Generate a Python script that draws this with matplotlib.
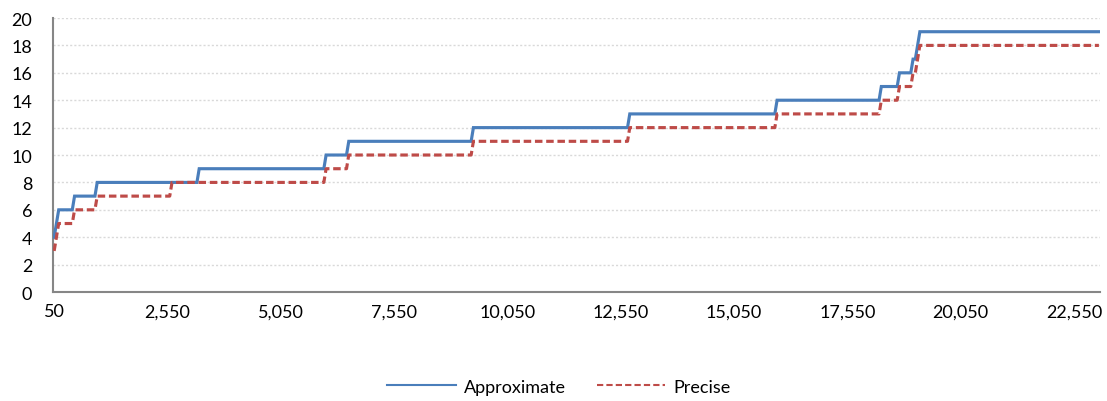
import matplotlib.pyplot as plt
from matplotlib.lines import Line2D
from matplotlib.ticker import FuncFormatter

# ---------------------------------------------------------
# Data: x where each step starts, and the level
# ---------------------------------------------------------
approx_x = [50, 100, 150, 500, 1000, 3250, 6050, 6550, 9300, 12750,
            16000, 18300, 18700, 19000, 19100, 19150]
approx_y = [4, 5, 6, 7, 8, 9, 10, 11, 12, 13, 14, 15, 16, 17, 18, 19]

precise_x = [50, 100, 150, 500, 1000, 2650, 6050, 6550, 9300, 12750,
             16000, 18300, 18700, 19000, 19100, 19150]
precise_y = [3, 4, 5, 6, 7, 8, 9, 10, 11, 12, 13, 14, 15, 16, 17, 18]

x_end = 23100
x_step = 50  # category spacing, risers span one category
x_ticks = [50, 2550, 5050, 7550, 10050, 12550, 15050, 17550, 20050, 22550]
y_ticks = [0, 2, 4, 6, 8, 10, 12, 14, 16, 18, 20]

BLUE = '#4A7EBB'
RED = '#BE4B48'
FS = 13


def step_vertices(xs, ys, end):
    # hold each level until one category before the next change
    vx, vy = [], []
    for i, (x, y) in enumerate(zip(xs, ys)):
        vx.append(x)
        vy.append(y)
        nxt = xs[i + 1] - x_step if i + 1 < len(xs) else end
        if nxt > x:
            vx.append(nxt)
            vy.append(y)
    return vx, vy


plt.rcParams['font.family'] = ['Lato', 'DejaVu Sans']

fig = plt.figure(figsize=(11.07, 4.02), dpi=100)
ax = fig.add_axes([0.0479, 0.2711, 0.9458, 0.6816])

ax_x, ax_y = step_vertices(approx_x, approx_y, x_end)
pr_x, pr_y = step_vertices(precise_x, precise_y, x_end)

ax.plot(ax_x, ax_y, color=BLUE, lw=2.25, solid_joinstyle='miter', zorder=3)
ax.plot(pr_x, pr_y, color=RED, lw=2.25, dashes=(2.4, 1.2), zorder=3)

ax.set_xlim(25, 23125)
ax.set_ylim(0, 20)
ax.set_xticks(x_ticks)
ax.set_yticks(y_ticks)
ax.xaxis.set_major_formatter(FuncFormatter(lambda v, p: f'{int(v):,}'))

ax.grid(axis='y', color='#D9D9D9', linestyle=(0, (1.5, 1.5)), lw=1)
ax.set_axisbelow(True)
for s in ['top', 'right']:
    ax.spines[s].set_visible(False)
for s in ['left', 'bottom']:
    ax.spines[s].set_color('#868686')
    ax.spines[s].set_linewidth(1.5)
ax.tick_params(axis='both', length=0, labelsize=FS, colors='black')
ax.tick_params(axis='y', pad=15)
ax.tick_params(axis='x', pad=8)

handles = [Line2D([], [], color=BLUE, lw=1.5),
           Line2D([], [], color=RED, lw=1.5, dashes=(3, 1.5))]
fig.legend(handles, ['Approximate', 'Precise'], loc='lower center',
           bbox_to_anchor=(0.505, -0.025), ncol=2, frameon=False,
           fontsize=FS, handlelength=3.8, handletextpad=0.45,
           columnspacing=1.7)

fig.savefig('out.png', dpi=100)
plt.close(fig)
